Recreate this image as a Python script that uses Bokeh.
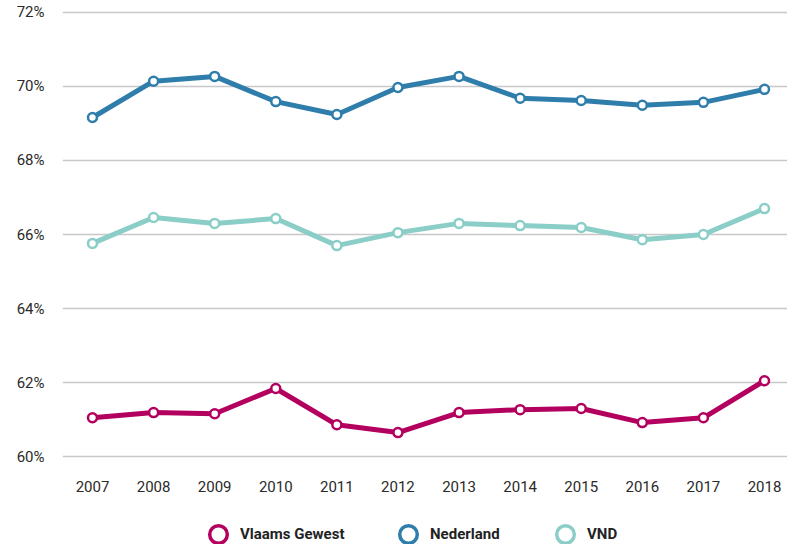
from bokeh.plotting import figure
from bokeh.layouts import column
from bokeh.models import (ColumnDataSource, FixedTicker, PrintfTickFormatter,
                          Range1d, Legend, LegendItem)
from bokeh.embed import file_html
from bokeh.resources import INLINE

years = [2007, 2008, 2009, 2010, 2011, 2012, 2013, 2014, 2015, 2016, 2017, 2018]
vlaams = [61.05, 61.19, 61.16, 61.84, 60.86, 60.65, 61.19, 61.27, 61.30, 60.92, 61.05, 62.05]
nederland = [69.16, 70.14, 70.27, 69.59, 69.24, 69.97, 70.27, 69.68, 69.62, 69.49, 69.57, 69.92]
vnd = [65.76, 66.46, 66.30, 66.43, 65.70, 66.05, 66.30, 66.24, 66.19, 65.86, 66.00, 66.70]
y_ticks = [60, 62, 64, 66, 68, 70, 72]

series = [
    ("Vlaams Gewest", vlaams, "#B3005F"),
    ("Nederland", nederland, "#2E7DAB"),
    ("VND", vnd, "#8ACEC7"),
]

FONT = "Roboto"

p = figure(width=787, height=500, output_backend="svg", toolbar_location=None,
           x_range=Range1d(2006.509, 2018.3765), y_range=Range1d(59.95, 72.05),
           min_border_left=62, min_border_right=0, min_border_top=10,
           min_border_bottom=42, outline_line_color=None)

p.xaxis.ticker = FixedTicker(ticks=years)
p.yaxis.ticker = FixedTicker(ticks=y_ticks)
p.yaxis.formatter = PrintfTickFormatter(format="%d%%")
for ax in (p.xaxis, p.yaxis):
    ax.axis_line_color = None
    ax.major_tick_line_color = None
    ax.minor_tick_line_color = None
    ax.major_label_text_font = FONT
    ax.major_label_text_font_size = "15px"
    ax.major_label_text_color = "#2a2a2a"
p.xaxis.major_label_standoff = 16
p.yaxis.major_label_standoff = 12

p.xgrid.grid_line_color = None
p.ygrid.grid_line_color = "#c8c8c8"
p.ygrid.grid_line_width = 1.5

# legend strip: a second figure whose frame is aligned with the chart's frame
lg = figure(width=787, height=44, output_backend="svg", toolbar_location=None,
            x_range=Range1d(0, 1), y_range=Range1d(0, 1),
            min_border=0, outline_line_color=None, x_axis_location=None,
            y_axis_location=None)
lg.xgrid.visible = False
lg.ygrid.visible = False

legend_left = [134, 324, 481]
for (name, vals, color), lx in zip(series, legend_left):
    src = ColumnDataSource(dict(x=years, y=vals))
    p.line("x", "y", source=src, line_color=color, line_width=5)
    p.scatter("x", "y", source=src, size=9, fill_color="white",
              line_color=color, line_width=2.5)
    # same data, outside the strip's ranges -> only its legend glyph shows
    dummy = lg.scatter("x", "y", source=ColumnDataSource(dict(x=years, y=vals)),
                       size=18, fill_color=None, line_color=color,
                       line_width=3.5)
    leg = Legend(items=[LegendItem(label=name, renderers=[dummy])],
                 location=(lx, -12), glyph_width=44, glyph_height=44,
                 padding=0, margin=0, label_standoff=0,
                 border_line_color=None, background_fill_color=None,
                 label_text_font=FONT, label_text_font_style="bold",
                 label_text_font_size="15px", label_text_color="#222222")
    lg.add_layout(leg, "center")

layout = column(p, lg, spacing=0)
open("out.html", "w").write(file_html(layout, INLINE))
